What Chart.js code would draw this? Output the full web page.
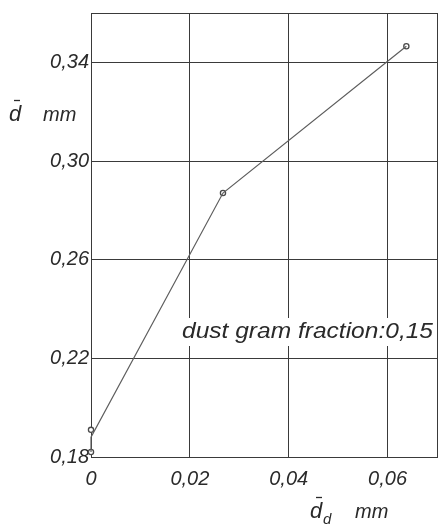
<!DOCTYPE html>
<html><head><meta charset="utf-8">
<script src="https://cdn.jsdelivr.net/npm/chart.js@4/dist/chart.umd.min.js"></script>
<style>html,body{margin:0;padding:0;background:#fff}#wrap{width:440px;height:526px;position:relative}</style>
</head><body><div id="wrap"><canvas id="c"></canvas></div>
<script>
const xTickValues = [0, 0.02, 0.04, 0.06, 0.07];
const xTickLabels = ["0", "0,02", "0,04", "0,06", ""];
const yTickValues = [0.18, 0.22, 0.26, 0.30, 0.34, 0.36];
const yTickLabels = ["0,18", "0,22", "0,26", "0,30", "0,34", ""];
const lineX = [0, 0, 0.0267, 0.0638];
const lineY = [0.182, 0.188, 0.287, 0.3465];
const markerX = [0, 0, 0.0267, 0.0638];
const markerY = [0.182, 0.191, 0.287, 0.3465];
const annotationText = "dust gram fraction:0,15";
const yTitle = "mm";
const xTitle = "mm";

const FONT = "'Liberation Sans', Arial, sans-serif";
const GRID = "#3a3a3a";
const TXT = "#2a2a2a";

const overlay = {
  id: 'overlay',
  beforeDatasetsDraw(chart) {
    const ctx = chart.ctx;
    const xs = chart.scales.x;
    ctx.save();
    ctx.font = "italic 22px " + FONT;
    const w = ctx.measureText(annotationText).width;
    const targetW = 251;
    const x0 = 182, base = 338;
    ctx.fillStyle = "#fff";
    ctx.fillRect(x0 - 4, 318, xs.right - 2 - (x0 - 4), 28);
    ctx.translate(x0, base);
    ctx.scale(targetW / w, 1);
    ctx.fillStyle = TXT;
    ctx.textBaseline = "alphabetic";
    ctx.fillText(annotationText, 0, 0);
    ctx.restore();
  },
  afterDraw(chart) {
    const ctx = chart.ctx;
    ctx.save();
    ctx.fillStyle = TXT;
    ctx.strokeStyle = TXT;
    ctx.lineWidth = 1.3;
    ctx.textBaseline = "alphabetic";
    ctx.font = "italic 22px " + FONT;
    ctx.fillText("d", 9, 121);
    ctx.beginPath(); ctx.moveTo(14, 100.5); ctx.lineTo(20, 100.5); ctx.stroke();
    ctx.font = "italic 20px " + FONT;
    ctx.fillText(yTitle, 43, 121);
    ctx.font = "italic 22px " + FONT;
    ctx.fillText("d", 310, 518);
    ctx.beginPath(); ctx.moveTo(316, 497.5); ctx.lineTo(322, 497.5); ctx.stroke();
    ctx.font = "italic 15px " + FONT;
    ctx.fillText("d", 323, 524);
    ctx.font = "italic 20px " + FONT;
    ctx.fillText(xTitle, 355, 518);
    ctx.restore();
  }
};

new Chart(document.getElementById('c'), {
  type: 'scatter',
  data: {
    datasets: [
      {
        type: 'line',
        data: lineX.map((x, i) => ({x: x, y: lineY[i]})),
        borderColor: '#5e5e5e',
        borderWidth: 1.2,
        pointRadius: 0,
        tension: 0,
        fill: false,
        clip: false
      },
      {
        data: markerX.map((x, i) => ({x: x, y: markerY[i]})),
        borderColor: '#4a4a4a',
        backgroundColor: '#fff',
        borderWidth: 1.3,
        pointRadius: 2.6,
        clip: false
      }
    ]
  },
  options: {
    responsive: true,
    maintainAspectRatio: false,
    animation: false,
    layout: { autoPadding: false, padding: { top: 13, right: 3, left: 0, bottom: 0 } },
    plugins: { legend: { display: false }, tooltip: { enabled: false } },
    scales: {
      x: {
        type: 'linear',
        min: 0, max: 0.07,
        afterBuildTicks: s => { s.ticks = xTickValues.map(v => ({ value: v })); },
        afterFit: s => { s.height = 69; s.paddingLeft = 0; s.paddingRight = 0; },
        ticks: {
          callback: (v, i) => xTickLabels[i],
          font: { family: FONT, size: 20, style: 'italic' },
          color: TXT, padding: 10, maxRotation: 0, autoSkip: false
        },
        grid: { color: GRID, lineWidth: 1, drawTicks: false },
        border: { display: true, color: GRID, width: 1 }
      },
      y: {
        type: 'linear',
        min: 0.18, max: 0.36,
        afterBuildTicks: s => { s.ticks = yTickValues.map(v => ({ value: v })); },
        afterFit: s => { s.width = 91; s.paddingTop = 0; s.paddingBottom = 0; },
        ticks: {
          callback: (v, i) => yTickLabels[i],
          font: { family: FONT, size: 20, style: 'italic' },
          color: TXT, padding: 2, autoSkip: false
        },
        grid: { color: GRID, lineWidth: 1, drawTicks: false },
        border: { display: true, color: GRID, width: 1 }
      }
    }
  },
  plugins: [overlay]
});
</script>
</body></html>
